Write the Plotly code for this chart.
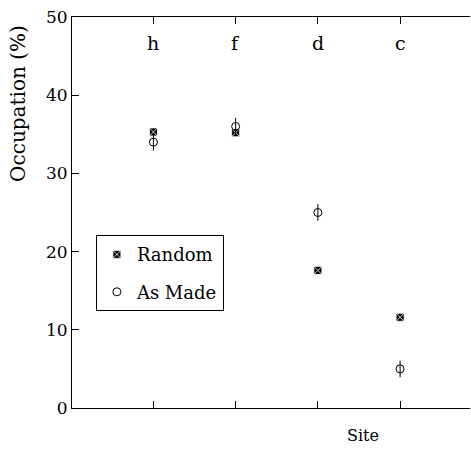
import plotly.graph_objects as go

# Data
sites = ["h", "f", "d", "c"]
random_occ = [35.3, 35.2, 17.6, 11.6]
as_made_occ = [34.0, 36.0, 25.0, 5.0]
y_ticks = [0, 10, 20, 30, 40, 50]

FONT = "DejaVu Serif"

fig = go.Figure()
fig.add_trace(go.Scatter(
    x=sites, y=random_occ, mode="markers", name="Random", legendgroup="r",
    marker=dict(symbol="square-x", size=8, color="black",
                line=dict(color="white", width=0.8)),
))
fig.add_trace(go.Scatter(
    x=sites, y=as_made_occ, mode="markers", name="As Made", legendgroup="a",
    marker=dict(symbol="circle-open", size=8, color="black",
                line=dict(color="black", width=1)),
))
fig.add_trace(go.Scatter(
    x=sites, y=as_made_occ, mode="markers", showlegend=False, legendgroup="a",
    marker=dict(symbol="line-ns-open", size=12, color="black",
                line=dict(color="black", width=1)),
    hoverinfo="skip",
))

annotations = [
    dict(text="Occupation (%)", textangle=-90, xref="paper", yref="paper",
         x=-0.136, y=0.78, showarrow=False,
         font=dict(family=FONT, size=20, color="black"),
         xanchor="center", yanchor="middle"),
    dict(text="Site", xref="paper", yref="paper", x=0.73, y=-0.071,
         showarrow=False, font=dict(family=FONT, size=16, color="black"),
         xanchor="center", yanchor="middle"),
]
for s in sites:
    annotations.append(dict(text=s, x=s, xref="x", yref="paper", y=0.9335,
                            showarrow=False,
                            font=dict(family=FONT, size=19, color="black"),
                            xanchor="center", yanchor="middle"))

fig.update_layout(
    width=471, height=453,
    margin=dict(l=72, r=1, t=17, b=45),
    paper_bgcolor="white", plot_bgcolor="white",
    font=dict(family=FONT, color="black", size=16),
    showlegend=True,
    legend=dict(
        x=0.06, y=0.442, xanchor="left", yanchor="top",
        bordercolor="black", borderwidth=1, bgcolor="white",
        font=dict(family=FONT, size=18, color="black"),
        tracegroupgap=11, traceorder="grouped",
    ),
    xaxis=dict(
        type="category", range=[-0.99, 3.85],
        showline=True, linecolor="black", linewidth=1, mirror="ticks",
        ticks="inside", ticklen=7, tickcolor="black",
        showticklabels=False, showgrid=False, zeroline=False,
    ),
    yaxis=dict(
        range=[0, 50], tickvals=y_ticks,
        showline=True, linecolor="black", linewidth=1,
        ticks="inside", ticklen=7, tickcolor="black",
        tickfont=dict(family=FONT, size=17, color="black"),
        showgrid=False, zeroline=False,
    ),
    annotations=annotations,
)

fig.write_html("out.html", config={"displayModeBar": False},
               post_script="document.body.style.margin='0';")
